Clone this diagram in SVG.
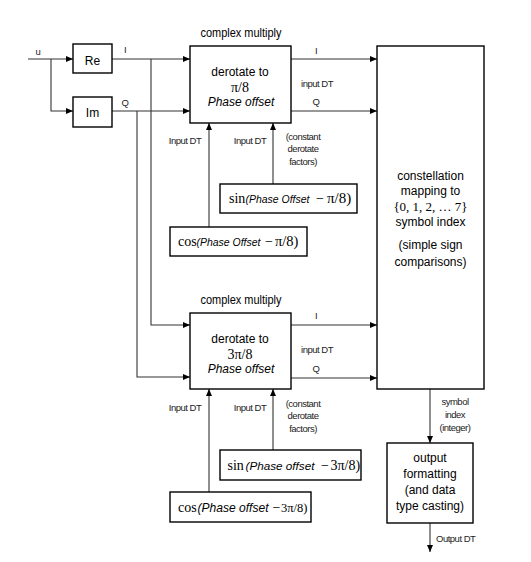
<svg xmlns="http://www.w3.org/2000/svg" width="531" height="562" viewBox="0 0 531 562">
<defs>
<marker id="ah" markerUnits="userSpaceOnUse" markerWidth="8" markerHeight="7" refX="7" refY="3" orient="auto">
<path d="M0,0 L7,3 L0,6 z" fill="#000"/>
</marker>
<style>
.box{fill:#fff;stroke:#000;stroke-width:1.4}
.arr{fill:none;stroke:#333;stroke-width:1.1;marker-end:url(#ah)}
.t{font-family:"Liberation Sans",Arial,sans-serif;font-size:12px;fill:#000;text-anchor:middle}
.s{font-family:"Liberation Sans",Arial,sans-serif;font-size:9.5px;fill:#222;text-anchor:middle;letter-spacing:-0.5px}
.m{font-family:"Liberation Serif","Times New Roman",serif;font-size:14px;fill:#000}
.it{font-family:"Liberation Sans",Arial,sans-serif;font-style:italic;font-size:11px;fill:#000}
</style>
</defs>
<rect width="531" height="562" fill="#fff"/>

<g id="connectors">
<path class="arr" d="M28,59 H73"/>
<path class="arr" d="M51,59 V111 H73"/>
<path class="arr" d="M112,59 H190"/>
<path class="arr" d="M112,111 H190"/>
<path class="arr" d="M151,59 V325 H190"/>
<path class="arr" d="M137,111 V377 H190"/>
<path class="arr" d="M291,59 H377"/>
<path class="arr" d="M291,111 H377"/>
<path class="arr" d="M291,325 H377"/>
<path class="arr" d="M291,378 H377"/>
<path class="arr" d="M209,227 V123"/>
<path class="arr" d="M273,184 V123"/>
<path class="arr" d="M209,492 V389"/>
<path class="arr" d="M273,450 V389"/>
<path class="arr" d="M430,389 V443"/>
<path class="arr" d="M430,523 V552"/>
<text class="s" x="38" y="55">u</text>
<text class="s" x="125" y="53">I</text>
<text class="s" x="125" y="106">Q</text>
<text class="s" x="316" y="54">I</text>
<text class="s" x="317" y="87">input DT</text>
<text class="s" x="316" y="105">Q</text>
<text class="s" x="316" y="319">I</text>
<text class="s" x="317" y="353">input DT</text>
<text class="s" x="316" y="372">Q</text>
<text class="s" x="185" y="144">Input DT</text>
<text class="s" x="250" y="144">Input DT</text>
<text class="s" x="303" y="140">(constant</text>
<text class="s" x="303" y="152">derotate</text>
<text class="s" x="303" y="165">factors)</text>
<text class="s" x="185" y="411">Input DT</text>
<text class="s" x="250" y="411">Input DT</text>
<text class="s" x="303" y="407">(constant</text>
<text class="s" x="303" y="419">derotate</text>
<text class="s" x="303" y="432">factors)</text>
<text class="s" x="455" y="405">symbol</text>
<text class="s" x="455" y="418">index</text>
<text class="s" x="455" y="431">(integer)</text>
<text class="s" x="436" y="542" style="text-anchor:start">Output DT</text>
</g>

<g id="re">
<rect class="box" x="73" y="44" width="39" height="29"/>
<text class="t" x="92.5" y="65">Re</text>
</g>
<g id="im">
<rect class="box" x="73" y="97" width="39" height="30"/>
<text class="t" x="92.5" y="117">Im</text>
</g>

<g id="derotate1">
<text class="t" x="241" y="37" textLength="81" lengthAdjust="spacingAndGlyphs">complex multiply</text>
<rect class="box" x="190" y="46" width="101" height="77"/>
<text class="t" x="240" y="76">derotate to</text>
<text class="m" x="240" y="92" text-anchor="middle">π/8</text>
<text class="t" x="241" y="106" font-style="italic">Phase offset</text>
</g>

<g id="sin1">
<rect class="box" x="220" y="184" width="137" height="29"/>
<text class="m" x="229" y="203">sin</text>
<text class="it" x="245.5" y="203" textLength="64" lengthAdjust="spacingAndGlyphs">(Phase Offset</text>
<text class="m" x="316" y="203">−</text>
<text class="m" x="327" y="203" style="font-size:15px">π/8)</text>
</g>
<g id="cos1">
<rect class="box" x="170" y="227" width="137" height="29"/>
<text class="m" x="178" y="246">cos</text>
<text class="it" x="196.5" y="246" textLength="64" lengthAdjust="spacingAndGlyphs">(Phase Offset</text>
<text class="m" x="265" y="246">−</text>
<text class="m" x="275" y="246" style="font-size:14.5px">π/8)</text>
</g>

<g id="derotate2">
<text class="t" x="241" y="304" textLength="81" lengthAdjust="spacingAndGlyphs">complex multiply</text>
<rect class="box" x="190" y="313" width="101" height="76"/>
<text class="t" x="240" y="343">derotate to</text>
<text class="m" x="240" y="359" text-anchor="middle">3π/8</text>
<text class="t" x="241" y="373" font-style="italic">Phase offset</text>
</g>

<g id="sin2">
<rect class="box" x="220" y="450" width="141" height="30"/>
<text class="m" x="227.5" y="470">sin</text>
<text class="it" x="245.5" y="470" style="font-size:11.5px" textLength="69" lengthAdjust="spacingAndGlyphs">(Phase offset</text>
<text class="m" x="321" y="470">−</text>
<text class="m" x="330.5" y="470">3π/8)</text>
</g>
<g id="cos2">
<rect class="box" x="170" y="492" width="141" height="30"/>
<text class="m" x="178" y="512">cos</text>
<text class="it" x="197.5" y="512" style="font-size:12px" textLength="71" lengthAdjust="spacingAndGlyphs">(Phase offset</text>
<text class="m" x="272.5" y="512">−</text>
<text class="m" x="281" y="512" style="font-size:13px" textLength="26.5" lengthAdjust="spacingAndGlyphs">3π/8)</text>
</g>

<g id="constellation">
<rect class="box" x="377" y="46" width="107" height="343"/>
<text class="t" x="430.5" y="180">constellation</text>
<text class="t" x="430.5" y="195">mapping to</text>
<text class="m" x="430.5" y="211" text-anchor="middle" style="font-size:13px">{0, 1, 2, … 7}</text>
<text class="t" x="430.5" y="226">symbol index</text>
<text class="t" x="430.5" y="249">(simple sign</text>
<text class="t" x="430.5" y="266">comparisons)</text>
</g>

<g id="output">
<rect class="box" x="387" y="443" width="86" height="80"/>
<text class="t" x="430" y="462">output</text>
<text class="t" x="430" y="478">formatting</text>
<text class="t" x="430" y="494">(and data</text>
<text class="t" x="430" y="510">type casting)</text>
</g>
</svg>
